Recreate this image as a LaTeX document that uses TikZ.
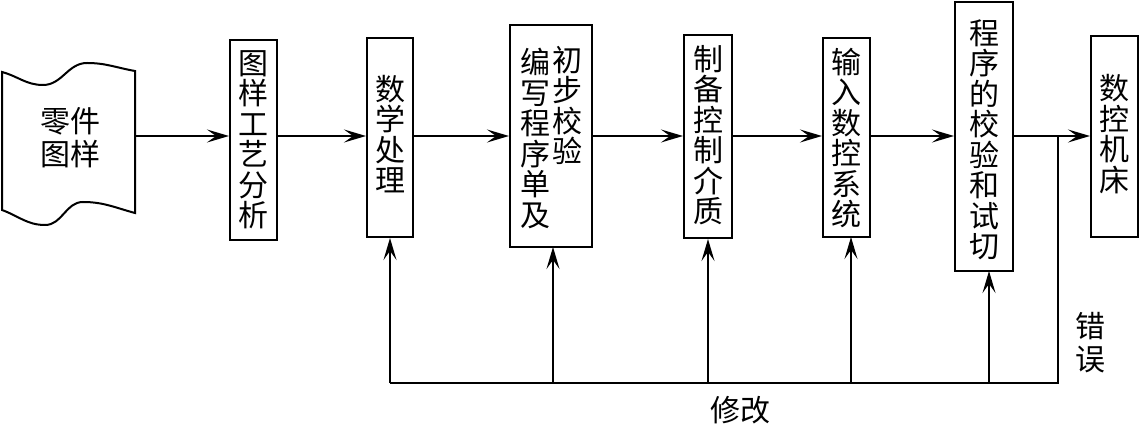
\documentclass[tikz,border=0pt]{standalone}
\usepackage{fontspec}
\newfontfamily\cjk{Noto Sans CJK SC}
\usetikzlibrary{arrows.meta}
\begin{document}
\begin{tikzpicture}[x=1pt,y=-1pt,
  box/.style={draw,line width=2pt,inner sep=0pt},
  col/.style={font=\cjk\fontsize{30}{30.5}\selectfont,align=center,inner sep=0pt},
  lbl/.style={font=\cjk\fontsize{30}{33}\selectfont,align=center,inner sep=0pt},
  ln/.style={line width=2pt},
  arr/.style={line width=2pt,-{Stealth[length=22pt,width=13pt,inset=9pt]}}]
\useasboundingbox (0,0) rectangle (1140,427);
% document shape
\draw[ln] (2,72) to[out=-15,in=180] (43,85) to[out=0,in=180] (87,63) to[out=0,in=170] (135,71)
  -- (135,213) to[out=165,in=0] (83,202) to[out=180,in=0] (45,225) to[out=180,in=-20] (2,210) -- cycle;
\node[lbl] (doc) at (70,138) {零件\\图样};
\coordinate (docE) at (135,136);
\coordinate (m) at (0,136);
% boxes
\node[box,minimum width=47,minimum height=200] (b2) at (253.5,140) {};
\node[col] at (b2) {图\\样\\工\\艺\\分\\析};
\node[box,minimum width=46,minimum height=199] (b3) at (390,137.5) {};
\node[col] at (390,134) {数\\学\\处\\理};
\node[box,minimum width=82,minimum height=222] (b4) at (551,136) {};
\node[col,anchor=north] (b4l) at (535,48) {编\\写\\程\\序\\单\\及};
\node[col,anchor=north] (b4r) at (567,46) {初\\步\\校\\验};
\node[box,minimum width=48,minimum height=203] (b5) at (708,136.5) {};
\node[col] at (708,135) {制\\备\\控\\制\\介\\质};
\node[box,minimum width=47,minimum height=199] (b6) at (846.5,137.5) {};
\node[col] at (846.5,138) {输\\入\\数\\控\\系\\统};
\node[box,minimum width=58,minimum height=269] (b7) at (984,136.5) {};
\node[col] at (984,140) {程\\序\\的\\校\\验\\和\\试\\切};
\node[box,minimum width=47,minimum height=201] (b8) at (1114.5,136.5) {};
\node[col] at (1114.5,134) {数\\控\\机\\床};
% main flow
\draw[arr] (docE) -- (docE -| b2.west);
\draw[arr] (b2.east |- m) -- (b3.west |- m);
\draw[arr] (b3.east |- m) -- (b4.west |- m);
\draw[arr] (b4.east |- m) -- (b5.west |- m);
\draw[arr] (b5.east |- m) -- (b6.west |- m);
\draw[arr] (b6.east |- m) -- (b7.west |- m);
\draw[arr] (b7.east |- m) -- (b8.west |- m);
% feedback
\coordinate (fb) at (1058,136);
\coordinate (bot) at (0,383);
\draw[ln] (fb) -- (fb |- bot) -- (b3.south |- bot);
\draw[arr] (b3.south |- bot) -- (b3.south);
\draw[arr] (553,383) -- (553,247);
\draw[arr] (b5.south |- bot) -- (b5.south);
\draw[arr] (851,383) -- (851,237);
\draw[arr] (989,383) -- (989,271);
\node[lbl] (xg) at (740,410) {修改};
\node[lbl] (cw) at (1090,343) {错\\误};
\end{tikzpicture}
\end{document}
